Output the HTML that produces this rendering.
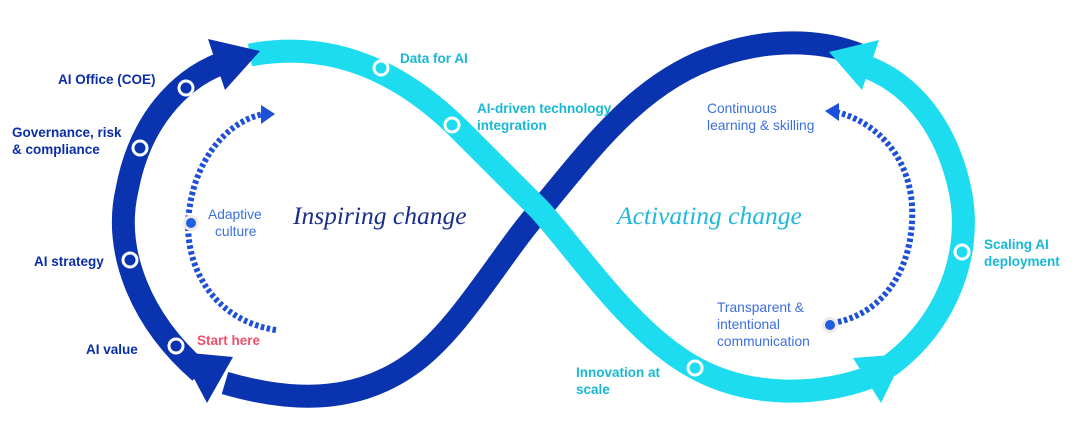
<!DOCTYPE html>
<html><head><meta charset="utf-8"><style>
html,body{margin:0;padding:0;background:#fff;}
svg{display:block;}
.b{font-family:"Liberation Sans",sans-serif;font-weight:bold;font-size:13.5px;}
.l{font-family:"Liberation Sans",sans-serif;font-size:13.8px;fill:#3a6fe0;}
.s{font-family:"Liberation Serif",serif;font-style:italic;font-size:25.5px;}
</style></head><body>
<svg width="1080" height="439" viewBox="0 0 1080 439" xmlns="http://www.w3.org/2000/svg">
<g fill="none" stroke-linecap="butt">
<path d="M 225,383 C 300,405 360,400 410,365 C 460,330 500,255 540,210 C 590,150 640,80 720,55 C 780,35 830,43 860,55" stroke="#0a33b0" stroke-width="23"/>
<path d="M 200,372 C 140,320 113,250 127,190 C 140,120 180,80 220,64" stroke="#0a33b0" stroke-width="23"/>
<path d="M 250,55 C 330,40 400,70 460,130 C 500,170 520,190 540,210 C 580,255 630,330 690,365 C 750,400 820,395 868,378" stroke="#1edcf0" stroke-width="23"/>
<path d="M 870,378 C 940,340 975,260 960,190 C 945,120 905,78 858,64" stroke="#1edcf0" stroke-width="23"/>
</g>
<polygon points="208,39 225,90 260,51" fill="#0a33b0"/>
<polygon points="233,357 207,403 180,352" fill="#0a33b0"/>
<polygon points="879,40 862,90 829,52" fill="#1edcf0"/>
<polygon points="853,358 881,403 905,354" fill="#1edcf0"/>
<g fill="none" stroke="#1d4fd8" stroke-width="6" stroke-dasharray="3.5 2.5">
<path d="M 276,330 C 210,320 180,260 190,205 C 198,155 230,120 264,114"/>
<path d="M 838,322 C 890,310 915,260 912,205 C 908,150 870,120 836,112"/>
</g>
<polygon points="261,105 275,114 261,124" fill="#1d4fd8"/>
<polygon points="839,103 825,111 839,121" fill="#1d4fd8"/>
<circle cx="191" cy="223" r="8" fill="#f1e9e6"/><circle cx="191" cy="223" r="5" fill="#1d5fe0"/>
<circle cx="830" cy="325" r="8" fill="#f1e9e6"/><circle cx="830" cy="325" r="5" fill="#1d5fe0"/>
<g stroke="#fff" stroke-width="3" fill="#0a33b0">
<circle cx="186" cy="88" r="7"/><circle cx="140" cy="148" r="7"/><circle cx="130" cy="260" r="7"/><circle cx="176" cy="346" r="7"/>
</g>
<g stroke="#fff" stroke-width="3" fill="#1edcf0">
<circle cx="381" cy="68" r="7"/><circle cx="452" cy="125" r="7"/><circle cx="695" cy="368" r="7"/><circle cx="962" cy="252" r="7"/>
</g>
<g class="b" fill="#0a2ea8">
<text x="58" y="84">AI Office (COE)</text>
<text x="12" y="137">Governance, risk</text>
<text x="12" y="154">&amp; compliance</text>
<text x="34" y="266">AI strategy</text>
<text x="86" y="354">AI value</text>
</g>
<text class="b" x="197" y="345" fill="#f0506a">Start here</text>
<g class="b" fill="#17b8d6">
<text x="400" y="63">Data for AI</text>
<text x="477" y="113">AI-driven technology</text>
<text x="477" y="130">integration</text>
<text x="576" y="377">Innovation at</text>
<text x="576" y="394">scale</text>
<text x="984" y="249">Scaling AI</text>
<text x="984" y="266">deployment</text>
</g>
<g class="l">
<text x="208" y="219">Adaptive</text>
<text x="215" y="236">culture</text>
<text x="707" y="113">Continuous</text>
<text x="707" y="130">learning &amp; skilling</text>
<text x="717" y="312">Transparent &amp;</text>
<text x="717" y="329">intentional</text>
<text x="717" y="346">communication</text>
</g>
<text class="s" x="293" y="224" fill="#1a2f8a">Inspiring change</text>
<text class="s" x="617" y="224" fill="#22b8d8">Activating change</text>
</svg>
</body></html>
